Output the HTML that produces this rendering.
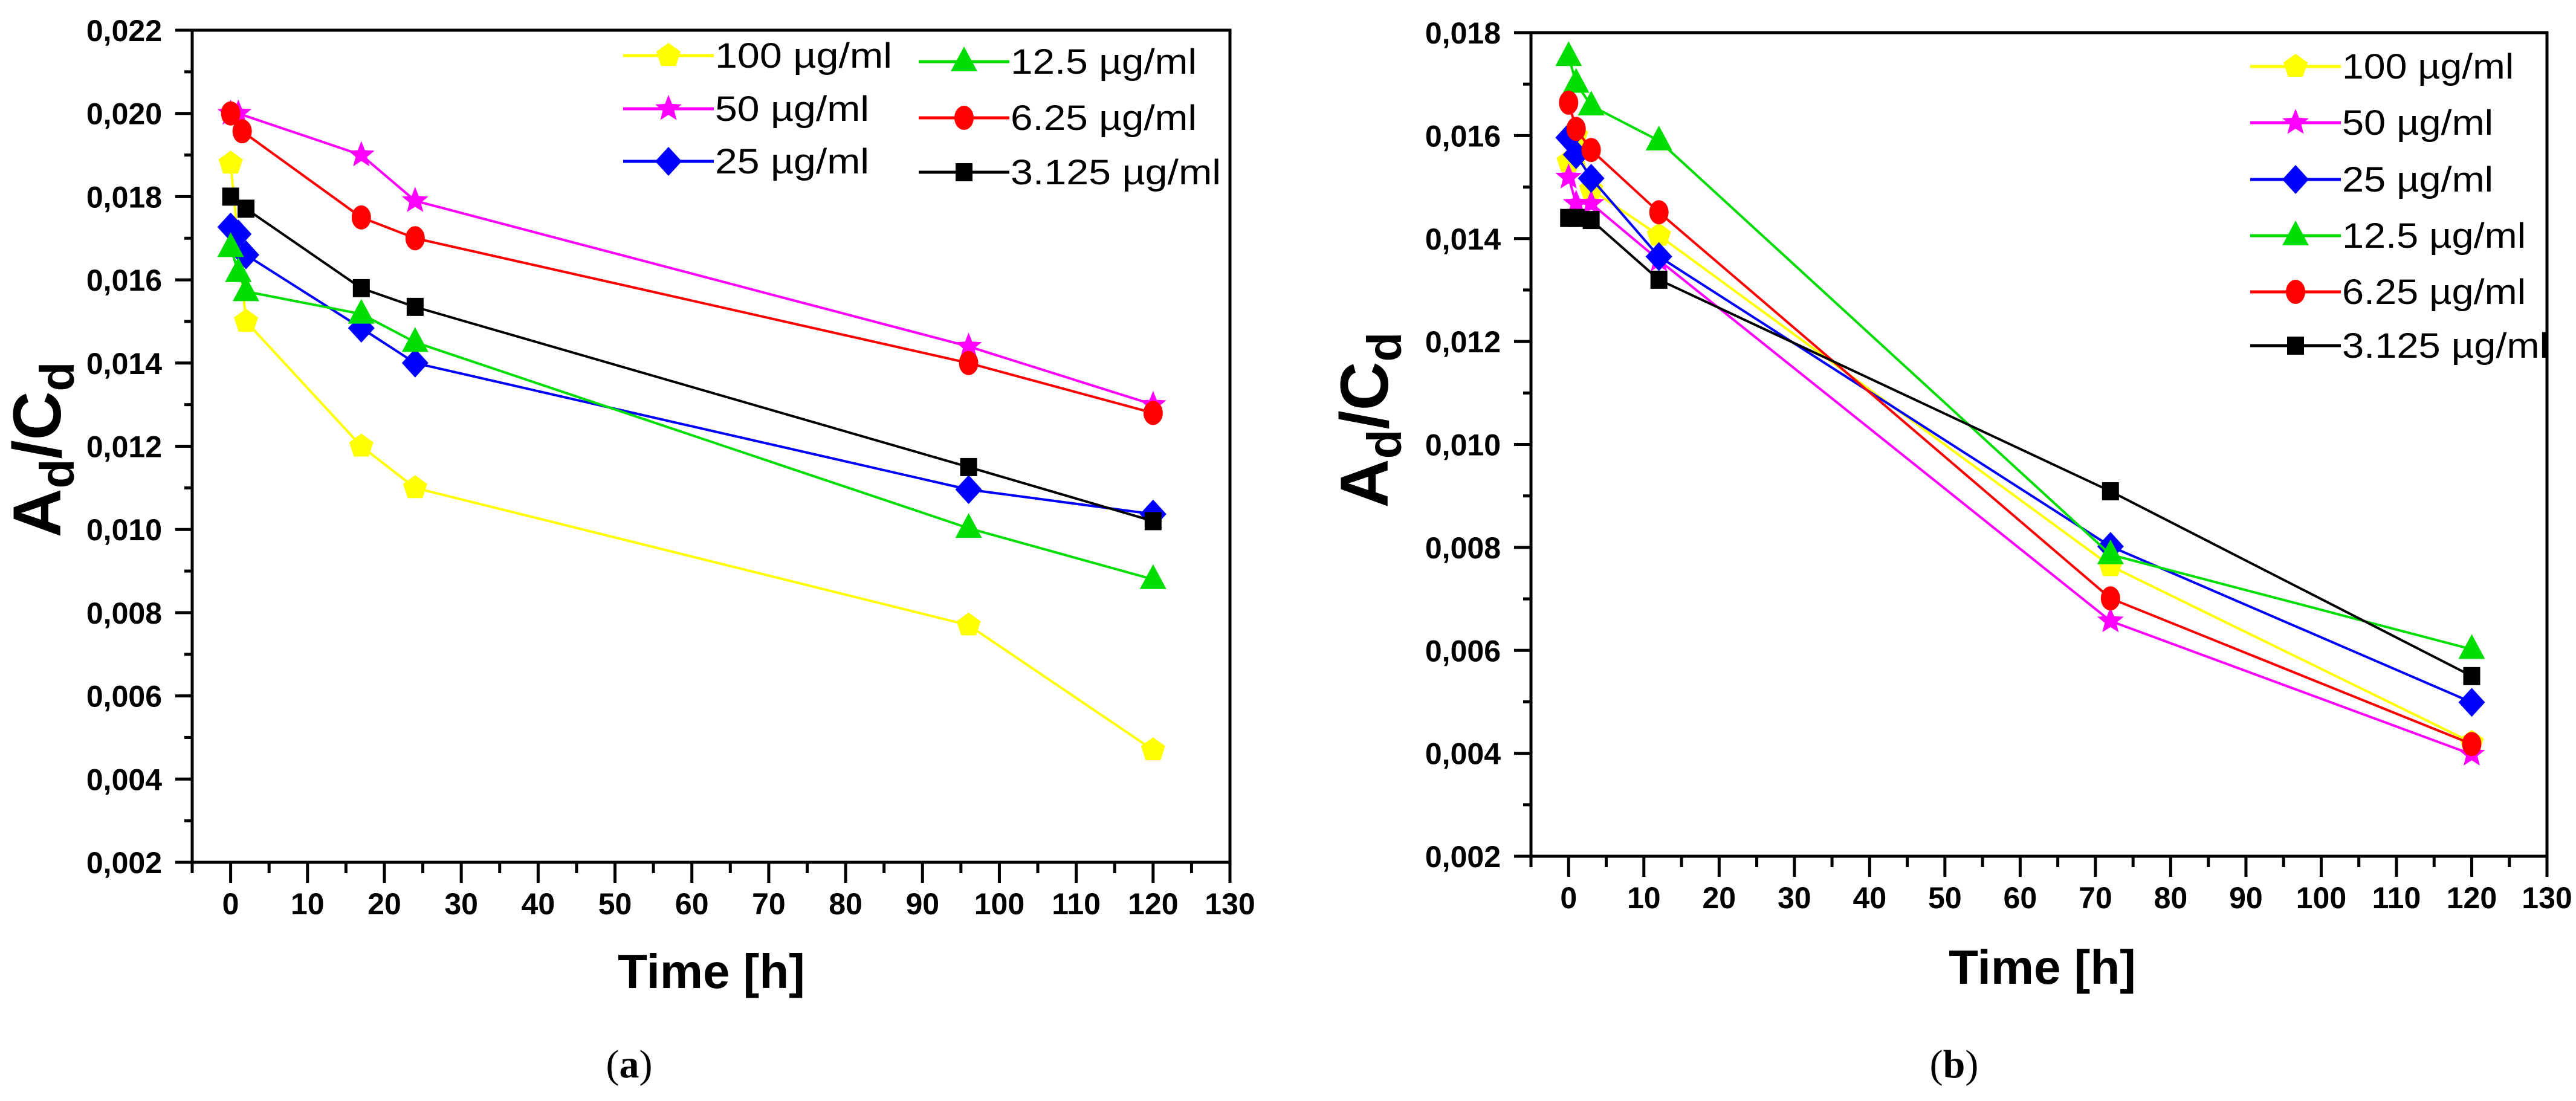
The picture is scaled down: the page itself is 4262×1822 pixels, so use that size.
<!DOCTYPE html>
<html><head><meta charset="utf-8"><style>
html,body{margin:0;padding:0;background:#fff}
svg{display:block}
text{font-family:"Liberation Sans",sans-serif}
text.cap{font-family:"Liberation Serif",serif}
</style></head><body>
<svg id="fig" width="4262" height="1822" viewBox="0 0 4262 1822" xmlns="http://www.w3.org/2000/svg">
<g id="chartA"></g>
<g id="chartB"></g>
<text class="cap" x="1041" y="1783" font-size="66" text-anchor="middle">(<tspan font-weight="bold">a</tspan>)</text>
<text class="cap" x="3233" y="1783" font-size="66" text-anchor="middle">(<tspan font-weight="bold">b</tspan>)</text>
</svg>
<script>
// ---- Chart (a) data ----
const aNames = ["100 µg/ml","50 µg/ml","25 µg/ml","12.5 µg/ml","6.25 µg/ml","3.125 µg/ml"];
const aX100 = [0,2,17,24,96,120];
const aY100 = [0.0188,0.0150,0.0120,0.0110,0.0077,0.0047];
const aX50 = [0,1,17,24,96,120];
const aY50 = [0.0200,0.0200,0.0190,0.0179,0.0144,0.0130];
const aX25 = [0,1,2,17,24,96,120];
const aY25 = [0.01727,0.0171,0.0166,0.01484,0.0140,0.01096,0.01037];
const aX125 = [0,1,2,17,24,96,120];
const aY125 = [0.01678,0.01618,0.01572,0.01518,0.0145,0.01003,0.0088];
const aX625 = [0,1.5,17,24,96,120];
const aY625 = [0.0200,0.01957,0.0175,0.0170,0.0140,0.0128];
const aX3125 = [0,2,17,24,96,120];
const aY3125 = [0.0180,0.01771,0.0158,0.01535,0.0115,0.0102];
const aYTicks = ["0,002","0,004","0,006","0,008","0,010","0,012","0,014","0,016","0,018","0,020","0,022"];
// ---- Chart (b) data ----
const bX = [0,1,3,12,72,120];
const bY100 = [0.01549,0.0160,0.01495,0.01406,0.00764,0.00421];
const bY50 = [0.01519,0.01468,0.01468,0.01358,0.00657,0.00398];
const bY25 = [0.01596,0.01563,0.01517,0.01365,0.00802,0.00499];
const bY125 = [0.01754,0.01702,0.01658,0.0159,0.00786,0.00602];
const bY625 = [0.01664,0.01613,0.01572,0.01451,0.00701,0.00418];
const bY3125 = [0.0144,0.0144,0.01436,0.0132,0.00909,0.0055];
const bYTicks = ["0,002","0,004","0,006","0,008","0,010","0,012","0,014","0,016","0,018"];
const xTicks = ["0","10","20","30","40","50","60","70","80","90","100","110","120","130"];

const NS="http://www.w3.org/2000/svg";
const colors=["#ffff00","#ff00ff","#0000ff","#00dd00","#ff0000","#000000"];
const shapes=["pentagon","star","diamond","triangle","circle","square"];
function mk(tag,attrs,parent){const e=document.createElementNS(NS,tag);for(const k in attrs)e.setAttribute(k,attrs[k]);parent.appendChild(e);return e;}
function marker(g,shape,cx,cy,c){
  let e;
  if(shape==="circle"){e=mk("ellipse",{cx:cx,cy:cy,rx:16,ry:20,fill:c},g);}
  else if(shape==="square"){e=mk("rect",{x:cx-14,y:cy-15,width:28,height:30,fill:c},g);}
  else {
    let pts=[];
    if(shape==="pentagon"){for(let i=0;i<5;i++){const a=-Math.PI/2+i*2*Math.PI/5;pts.push([cx+21*Math.cos(a),cy+21*Math.sin(a)]);}}
    if(shape==="star"){for(let i=0;i<10;i++){const r=i%2?10:23;const a=-Math.PI/2+i*Math.PI/5;pts.push([cx+r*Math.cos(a),cy+r*Math.sin(a)]);}}
    if(shape==="diamond"){pts=[[cx,cy-24],[cx+22,cy],[cx,cy+24],[cx-22,cy]];}
    if(shape==="triangle"){pts=[[cx,cy-25],[cx+22,cy+16],[cx-22,cy+16]];}
    e=mk("polygon",{points:pts.map(p=>p[0].toFixed(1)+","+p[1].toFixed(1)).join(" "),fill:c},g);
  }
  return e;
}
function drawChart(g,cfg){
  const sx=v=>cfg.x0+(v-cfg.xmin)/(cfg.xmax-cfg.xmin)*(cfg.x1-cfg.x0);
  const sy=v=>cfg.y1-(v-cfg.ymin)/(cfg.ymax-cfg.ymin)*(cfg.y1-cfg.y0);
  const box=mk("rect",{x:cfg.x0,y:cfg.y0,width:cfg.x1-cfg.x0,height:cfg.y1-cfg.y0,fill:"none",stroke:"#000","stroke-width":5},g);
  
  
  for(let i=0;i<cfg.yTicks.length;i++){
    const v=cfg.ymin+i*0.002, y=sy(v);
    const t=mk("line",{x1:cfg.x0-28,y1:y,x2:cfg.x0,y2:y,stroke:"#000","stroke-width":5},g);
    
    
    const lb=mk("text",{x:cfg.x0-50,y:y+18,"font-size":50,"font-weight":"bold","text-anchor":"end"},g);
    lb.textContent=cfg.yTicks[i];
    
    
    if(i<cfg.yTicks.length-1){
      const ym=sy(v+0.001);
      const m=mk("line",{x1:cfg.x0-13,y1:ym,x2:cfg.x0,y2:ym,stroke:"#000","stroke-width":5},g);
      
      
    }
  }
  for(let v=-5;v<=130;v+=5){
    const x=sx(v), major=(v%10===0);
    const t=mk("line",{x1:x,y1:cfg.y1,x2:x,y2:cfg.y1+(major?34:18),stroke:"#000","stroke-width":5},g);
    
    
  }
  for(let i=0;i<xTicks.length;i++){
    const x=sx(i*10);
    const lb=mk("text",{x:x,y:cfg.y1+86,"font-size":50,"font-weight":"bold","text-anchor":"middle"},g);
    lb.textContent=xTicks[i];
    
    
  }
  const xt=mk("text",{x:cfg.xtx,y:cfg.xty,"font-size":80,"font-weight":"bold","text-anchor":"middle"},g);
  xt.textContent="Time [h]";
  
  
  const yt=mk("text",{x:0,y:0,"font-size":112,"font-weight":"bold","text-anchor":"middle",transform:"translate("+cfg.ytx+","+cfg.yty+") rotate(-90)"},g);
  yt.innerHTML='A<tspan font-size="80" dy="22">d</tspan><tspan dy="-22">/C</tspan><tspan font-size="80" dy="22">d</tspan>';
  
  
  for(let s=0;s<cfg.series.length;s++){
    const xs=cfg.series[s][0], ys=cfg.series[s][1];
    const sg=mk("g",{},g);
    
    
    const pl=mk("polyline",{points:xs.map((x,i)=>sx(x).toFixed(1)+","+sy(ys[i]).toFixed(1)).join(" "),fill:"none",stroke:colors[s],"stroke-width":4},sg);
    
    
    for(let i=0;i<xs.length;i++){
      const m=marker(sg,shapes[s],sx(xs[i]),sy(ys[i]),colors[s]);
      
      
    }
  }
  const lg=mk("g",{},g);
  
  
  for(let s=0;s<cfg.legend.length;s++){
    const L=cfg.legend[s];
    const e=mk("g",{},lg);
    
    
    mk("line",{x1:L[0],y1:L[1],x2:L[0]+150,y2:L[1],stroke:colors[s],"stroke-width":5},e);
    marker(e,shapes[s],L[0]+75,L[1],colors[s]);
    const tx=mk("text",{x:L[0]+152,y:L[1]+20,"font-size":58,textLength:L[2],lengthAdjust:"spacingAndGlyphs"},e);
    tx.textContent=aNames[s];
  }
}
drawChart(document.getElementById("chartA"),{
  x0:318,x1:2035,y0:50,y1:1427,xmin:-5,xmax:130,ymin:0.002,ymax:0.022,yTicks:aYTicks,
  xtx:1177,xty:1635,ytx:100,yty:744,
  series:[[aX100,aY100],[aX50,aY50],[aX25,aY25],[aX125,aY125],[aX625,aY625],[aX3125,aY3125]],
  legend:[[1031,92,293],[1031,180,255],[1031,267,255],[1520,102,308],[1520,195,308],[1520,285,348]]
});
drawChart(document.getElementById("chartB"),{
  x0:2533,x1:4214,y0:54,y1:1417,xmin:-5,xmax:130,ymin:0.002,ymax:0.018,yTicks:bYTicks,
  xtx:3379,xty:1628,ytx:2296,yty:695,
  series:[[bX,bY100],[bX,bY50],[bX,bY25],[bX,bY125],[bX,bY625],[bX,bY3125]],
  legend:[[3723,110,284],[3723,203,250],[3723,297,250],[3723,390,304],[3723,483,304],[3723,572,341]]
});
</script>
</body></html>
